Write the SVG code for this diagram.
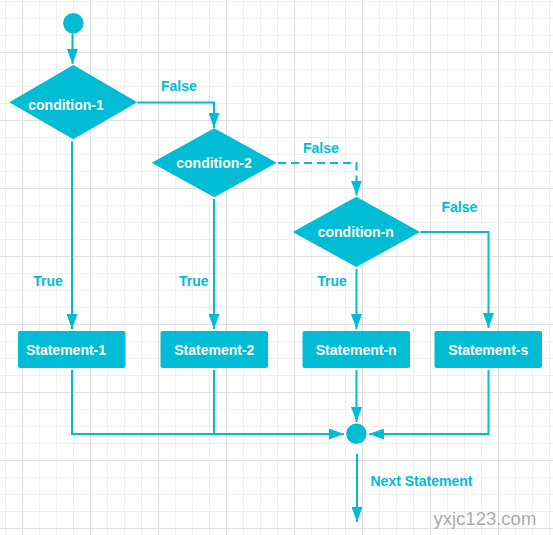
<svg xmlns="http://www.w3.org/2000/svg" width="553" height="535" viewBox="0 0 553 535">
  <defs>
    <pattern id="grid" x="22" y="52" width="68" height="68" patternUnits="userSpaceOnUse">
      <path d="M17.5 0V68M34.5 0V68M51.5 0V68M0 17.5H68M0 34.5H68M0 51.5H68" stroke="#efefef" stroke-width="1" fill="none"/>
      <path d="M0.5 0V68M0 0.5H68" stroke="#e0e0e0" stroke-width="1" fill="none"/>
    </pattern>
    <marker id="arrow" markerUnits="userSpaceOnUse" markerWidth="15" markerHeight="11" refX="15" refY="5.5" orient="auto">
      <path d="M0 0L15 5.5L0 11Z" fill="#00bcd4"/>
    </marker>
    <style>
      .shape { fill: #00bcd4; }
      .conn { fill: none; stroke: #00bcd4; stroke-width: 2; }
      .dash { stroke-dasharray: 8 5; }
      .ntext { font-family: "Liberation Sans", Arial, sans-serif; font-size: 14px; font-weight: bold; fill: #ffffff; text-anchor: middle; }
      .label { font-family: "Liberation Sans", Arial, sans-serif; font-size: 14px; font-weight: bold; fill: #00bcd4; }
      .wm { font-family: "Liberation Sans", Arial, sans-serif; font-size: 18.5px; fill: #ababab; }
    </style>
  </defs>

  <rect width="553" height="535" fill="#ffffff"/>
  <rect width="553" height="535" fill="url(#grid)"/>

  <g id="connectors">
    <path class="conn" d="M72.5 33.5V64" marker-end="url(#arrow)"/>
    <path class="conn" d="M137.5 102.5H214V128" marker-end="url(#arrow)"/>
    <path class="conn dash" d="M278 163H356.5V195.5" marker-end="url(#arrow)"/>
    <path class="conn" d="M420.5 232H488.5V328" marker-end="url(#arrow)"/>
    <path class="conn" d="M72 141.5V329" marker-end="url(#arrow)"/>
    <path class="conn" d="M214 199V329" marker-end="url(#arrow)"/>
    <path class="conn" d="M356.5 269V329" marker-end="url(#arrow)"/>
    <path class="conn" d="M72 370V434H344" marker-end="url(#arrow)"/>
    <path class="conn" d="M214 370V434"/>
    <path class="conn" d="M356.5 370V422" marker-end="url(#arrow)"/>
    <path class="conn" d="M488.5 370V434H369" marker-end="url(#arrow)"/>
    <path class="conn" d="M357 454V522" marker-end="url(#arrow)"/>
    <text class="label" x="161" y="90.5">False</text>
    <text class="label" x="303" y="152.5">False</text>
    <text class="label" x="441.5" y="212">False</text>
    <text class="label" x="33.3" y="286">True</text>
    <text class="label" x="179" y="286">True</text>
    <text class="label" x="317.3" y="286">True</text>
    <text class="label" x="370.5" y="486">Next Statement</text>
  </g>

  <g id="start">
    <circle class="shape" cx="73.3" cy="23.3" r="10.2"/>
  </g>

  <g id="condition-1">
    <polygon class="shape" points="9.3,102.2 73.3,65 137.3,102.2 73.3,139.3"/>
    <text class="ntext" x="66" y="109.5">condition-1</text>
  </g>

  <g id="condition-2">
    <polygon class="shape" points="151.7,162.8 214.2,128.3 276.7,162.8 214.2,197.3"/>
    <text class="ntext" x="214" y="167.5">condition-2</text>
  </g>

  <g id="condition-n">
    <polygon class="shape" points="292.7,231.9 356.3,196.7 420,231.9 356.3,267"/>
    <text class="ntext" x="355.8" y="236.7">condition-n</text>
  </g>

  <g id="statement-1">
    <rect class="shape" x="18" y="331" width="107.5" height="37" rx="2"/>
    <text class="ntext" x="66" y="354.5">Statement-1</text>
  </g>

  <g id="statement-2">
    <rect class="shape" x="160.5" y="331" width="107.5" height="37" rx="2"/>
    <text class="ntext" x="214.3" y="354.5">Statement-2</text>
  </g>

  <g id="statement-n">
    <rect class="shape" x="302.5" y="331" width="107.5" height="37" rx="2"/>
    <text class="ntext" x="356.2" y="354.5">Statement-n</text>
  </g>

  <g id="statement-s">
    <rect class="shape" x="434.5" y="331" width="107.5" height="37" rx="2"/>
    <text class="ntext" x="488.2" y="354.5">Statement-s</text>
  </g>

  <g id="join">
    <circle class="shape" cx="356.4" cy="433.8" r="10.2"/>
  </g>

  <text class="wm" x="433.5" y="525">yxjc123.com</text>
</svg>
